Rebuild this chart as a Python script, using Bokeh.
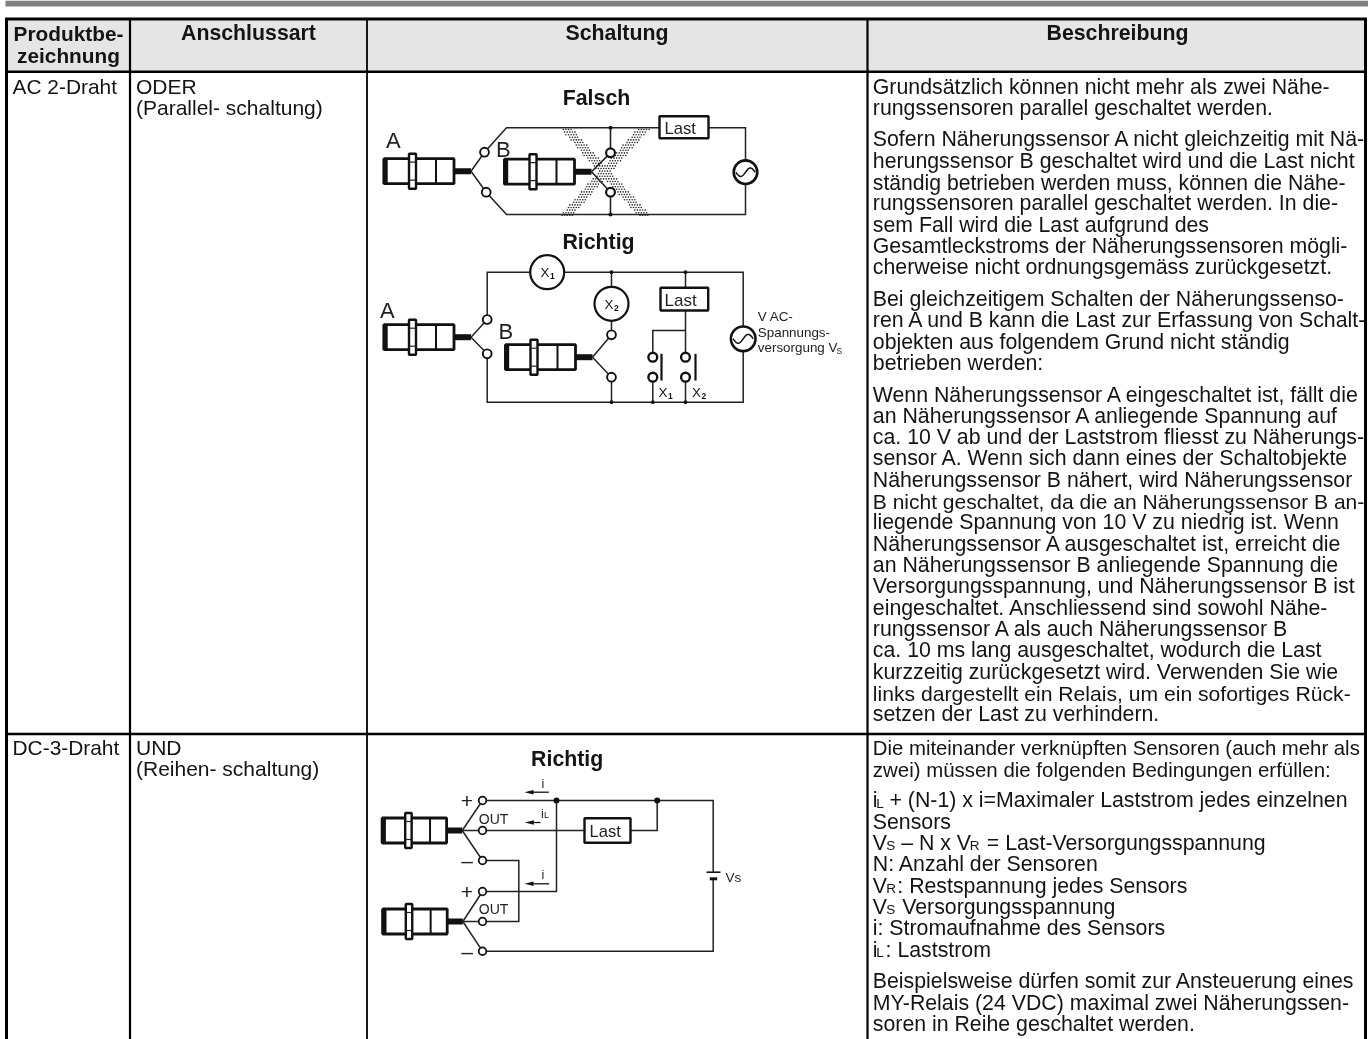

import numpy as np
from bokeh.plotting import figure
from bokeh.embed import file_html
from bokeh.resources import INLINE
from bokeh.core.properties import value

HEADER_COLS = ["Produktbe-|zeichnung", "Anschlussart", "Schaltung", "Beschreibung"]
ROW_PRODUCTS = ["AC 2-Draht", "DC-3-Draht"]
ROW_TYPES = [["ODER", "(Parallel- schaltung)"], ["UND", "(Reihen- schaltung)"]]
AC_PARAGRAPHS = [
    ["Grundsätzlich können nicht mehr als zwei Nähe-", "rungssensoren parallel geschaltet werden."],
    ["Sofern Näherungssensor A nicht gleichzeitig mit Nä-", "herungssensor B geschaltet wird und die Last nicht",
     "ständig betrieben werden muss, können die Nähe-", "rungssensoren parallel geschaltet werden. In die-",
     "sem Fall wird die Last aufgrund des", "Gesamtleckstroms der Näherungssensoren mögli-",
     "cherweise nicht ordnungsgemäss zurückgesetzt."],
    ["Bei gleichzeitigem Schalten der Näherungssenso-", "ren A und B kann die Last zur Erfassung von Schalt-",
     "objekten aus folgendem Grund nicht ständig", "betrieben werden:"],
    ["Wenn Näherungssensor A eingeschaltet ist, fällt die", "an Näherungssensor A anliegende Spannung auf",
     "ca. 10 V ab und der Laststrom fliesst zu Näherungs-", "sensor A. Wenn sich dann eines der Schaltobjekte",
     "Näherungssensor B nähert, wird Näherungssensor", "B nicht geschaltet, da die an Näherungssensor B an-",
     "liegende Spannung von 10 V zu niedrig ist. Wenn", "Näherungssensor A ausgeschaltet ist, erreicht die",
     "an Näherungssensor B anliegende Spannung die", "Versorgungsspannung, und Näherungssensor B ist",
     "eingeschaltet. Anschliessend sind sowohl Nähe-", "rungssensor A als auch Näherungssensor B",
     "ca. 10 ms lang ausgeschaltet, wodurch die Last", "kurzzeitig zurückgesetzt wird. Verwenden Sie wie",
     "links dargestellt ein Relais, um ein sofortiges Rück-", "setzen der Last zu verhindern."],
]
DC_PARAGRAPHS = [
    ["Die miteinander verknüpften Sensoren (auch mehr als", "zwei) müssen die folgenden Bedingungen erfüllen:"],
    [[("i", 0), ("{L", 3.4), ("+ (N-1) x i=Maximaler Laststrom jedes einzelnen", 16.7)], "Sensors",
     [("V", 0), ("{S", 13.5), ("– N x V", 28.4), ("{R", 97), ("= Last-Versorgungsspannung", 114)],
     "N: Anzahl der Sensoren",
     [("V", 0), ("{R", 13.5), (": Restspannung jedes Sensors", 24.5)],
     [("V", 0), ("{S", 13.5), ("Versorgungsspannung", 29.4)],
     "i: Stromaufnahme des Sensors",
     [("i", 0), ("{L", 3.4), (": Laststrom", 12.8)]],
    ["Beispielsweise dürfen somit zur Ansteuerung eines", "MY-Relais (24 VDC) maximal zwei Näherungssen-",
     "soren in Reihe geschaltet werden."],
]
DIAGRAM_TITLES = ["Falsch", "Richtig", "Richtig"]
LOAD_LABEL = "Last"
SUPPLY_LABEL = ["V AC-", "Spannungs-", "versorgung V"]
LINE_FIT = {"Die miteinander": 0.955, "zwei) müssen": 0.96, "B nicht geschaltet": 0.986,
            "links dargestellt": 0.992, "ständig betrieben": 0.994}

FONT = "Liberation Sans"
INK = "#141414"
WIDTH, HEIGHT = 1368, 1039
BASE_FIX = 0.37  # alphabetic text in the svg backend sits this many em low

p = figure(width=WIDTH, height=HEIGHT, x_range=(0, WIDTH), y_range=(HEIGHT, 0),
           x_axis_type=None, y_axis_type=None, toolbar_location=None,
           output_backend="svg", min_border=0, outline_line_color=None,
           background_fill_color="white", border_fill_color="white")
p.styles = {"position": "fixed", "left": "0px", "top": "0px"}


def box(x0, y0, x1, y1, fill, line=None, lw=0):
    p.quad(left=[x0], right=[x1], top=[y0], bottom=[y1], fill_color=fill,
           line_color=line, line_width=lw)


def label(x, y, t, size=21.3, bold=False, align="left", base="alphabetic", color=INK):
    if base == "alphabetic":
        y = y - BASE_FIX * size
    p.text(x=[x], y=[y], text=[t], text_font=value(FONT), text_font_size=f"{size:.2f}px",
           text_font_style="bold" if bold else "normal", text_align=align,
           text_baseline=base, text_color=color)


def wire(pts, lw=1.5, color="#222222"):
    p.line(x=[a for a, _ in pts], y=[b for _, b in pts], line_width=lw, line_color=color,
           line_join="miter")


def node(x, y, r=4.4, lw=1.9):
    p.circle(x=[x], y=[y], radius=r, fill_color="white", line_color="#111111", line_width=lw)


def dot(x, y, r=2.0):
    p.circle(x=[x], y=[y], radius=r, fill_color="#111111", line_color=None)


def sensor(x, y, k=1.0):
    """Proximity sensor body, flange and thick cable, scaled by k."""
    x_end = x + 87 * k
    wire([(x + 70 * k, y), (x_end, y)], lw=6, color="#111111")
    box(x, y - 12.5, x + 70 * k, y + 12.5, "white", "#111111", 2.8)
    wire([(x + 1.2, y - 12.5), (x + 1.2, y + 12.5)], lw=5, color="#111111")
    wire([(x + 52 * k, y - 12.5), (x + 52 * k, y + 12.5)], lw=2, color="#111111")
    box(x + 25 * k, y - 17.5, x + 32 * k, y + 17.5, "white", "#111111", 2.4)
    wire([(x + 25 * k, y - 9), (x + 32 * k, y - 9)], lw=1.2)
    wire([(x + 25 * k, y + 9), (x + 32 * k, y + 9)], lw=1.2)
    return x_end


def ac_source(x, y, r=11.8):
    p.circle(x=[x], y=[y], radius=r, fill_color="white", line_color="#111111", line_width=2.6)
    t = np.linspace(-1, 1, 40)
    p.line(x=x + t * r * 0.82, y=y - np.sin(t * np.pi) * r * 0.36, line_color="#111111", line_width=1.5)


def load_box(x0, y0, x1, y1, tx, ty, size=16.6):
    box(x0, y0, x1, y1, "white", "#111111", 2.4)
    label(tx, ty, LOAD_LABEL, size=size, color="#222222")


def arrow(x_from, x_to, y):
    p.line(x=[x_from, x_to + 6], y=[y, y], line_width=1.3, line_color="#111111")
    p.patch(x=[x_to, x_to + 9, x_to + 9], y=[y, y - 2.3, y + 2.3], fill_color="#111111", line_color=None)


# ---------- table frame ----------
box(5, 0, WIDTH, 6, "#808080")
box(5.5, 19, 1365, 71, "#e5e5e5")
TABLE_L, TABLE_R, TABLE_T, ROW_Y, HEAD_Y = 6, 1365, 18.5, 733.5, 71.3
for x_pos, lw in [(TABLE_L, 3), (129.5, 2.2), (366.5, 1.8), (867, 2.2), (TABLE_R, 3)]:
    wire([(x_pos, TABLE_T), (x_pos, HEIGHT)], lw=lw, color="#000000")
for y_pos, lw in [(TABLE_T, 3), (HEAD_Y, 2.6), (ROW_Y, 2.4)]:
    wire([(4.5, y_pos), (TABLE_R + 1.5, y_pos)], lw=lw, color="#000000")

# ---------- headers ----------
first, second = HEADER_COLS[0].split("|")
label(68, 40.7, first, bold=True, align="center", size=20.8)
label(68, 62.3, second, bold=True, align="center", size=20.8)
label(248, 40.7, HEADER_COLS[1], bold=True, align="center")
label(616.5, 40.7, HEADER_COLS[2], bold=True, align="center")
label(1117, 40.7, HEADER_COLS[3], bold=True, align="center")

# ---------- left columns ----------
for prod, lines, base in zip(ROW_PRODUCTS, ROW_TYPES, [93.6, 754.6]):
    label(12, base, prod, size=20.9)
    for j, line in enumerate(lines):
        label(135.5, base + j * 21.4, line, size=21)

# ---------- description ----------
LEAD, PARA = 21.33, 10.2
COL4_X = 872.3


def paragraphs(paras, y):
    for para in paras:
        for line in para:
            if isinstance(line, str):
                fit = next((v for k, v in LINE_FIT.items() if line.startswith(k)), 1.0)
                label(COL4_X, y, line, size=21.3 * fit)
            else:
                for t, dx in line:
                    if t.startswith("{"):
                        label(COL4_X + dx, y, t[1:], size=13.6)
                    else:
                        label(COL4_X + dx, y, t)
            y += LEAD
        y += PARA


paragraphs(AC_PARAGRAPHS, 94.0)
paragraphs(DC_PARAGRAPHS, 755.0)

# ---------- diagram 1: Falsch ----------
label(596, 105, DIAGRAM_TITLES[0], bold=True, align="center")
YT, YB = 127.3, 214.0
gx, gy = np.meshgrid(np.arange(555, 655, 2.6), np.arange(129, 215, 2.6))
gx[1::2] += 1.3
gx, gy = gx.ravel(), gy.ravel()
cx_top, cx_bot = 566.5, 642.5
slope = (cx_bot - cx_top) / (214 - 129)
c1 = cx_top + (gy - 129) * slope
c2 = cx_bot - (gy - 129) * slope
mask = (np.abs(gx - c1) < 6.2) | (np.abs(gx - c2) < 6.2)
p.scatter(x=gx[mask], y=gy[mask], size=1.6, marker="circle", fill_color="#222222", line_color=None)

sa = sensor(383.5, 170.7)
sb = sensor(504, 171.2)
wire([(sa, 170.7), (484, 151.7), (506, YT), (659, YT)])
wire([(sa, 170.7), (485.7, 191.7), (506, YB), (745, YB), (745, YT), (708, YT)])
wire([(sb, 171.2), (610, 152.3), (610, YT)], lw=1.6)
wire([(sb, 171.2), (610, 191.7), (610, YB)], lw=1.6)
for nx, ny in [(484, 151.7), (485.7, 191.7)]:
    node(nx, ny)
for nx, ny in [(610, 152.3), (610, 191.7)]:
    node(nx, ny, r=4.4, lw=2.2)
dot(610, YT), dot(610, YB)
load_box(659, 115.7, 708, 137.7, 664, 134)
ac_source(745, 171.7)
label(385.5, 148.3, "A", size=22, color="#222222")
label(495.5, 157.3, "B", size=22, color="#222222")

# ---------- diagram 2: Richtig ----------
label(598, 249, DIAGRAM_TITLES[1], bold=True, align="center")
YT2, YB2 = 271.7, 401.7
XL, XR = 486.7, 742.7
sa2 = sensor(383.5, 336.7)
sb2 = sensor(505, 356.7)
wire([(sa2, 336.7), (XL, 319), (XL, YT2), (XR, YT2), (XR, YB2), (XL, YB2), (XL, 353.3), (sa2, 336.7)])
wire([(sb2, 356.7), (611, 334.3), (611, YT2)])
wire([(sb2, 356.7), (611, 376.7), (611, YB2)])
wire([(685, YT2), (685, 356.7)])
wire([(685, 330), (652.3, 330), (652.3, 356.7)])
wire([(652.3, 376.7), (652.3, YB2)])
wire([(685, 376.7), (685, YB2)])
for nx, ny in [(XL, 319), (XL, 353.3), (611, 334.3), (611, 376.7)]:
    node(nx, ny)
for nx, ny in [(652.3, 356.7), (652.3, 376.7), (685, 356.7), (685, 376.7)]:
    node(nx, ny, r=4.4, lw=2.4)
for nx, ny in [(611, YT2), (685, YT2), (611, YB2), (652.3, YB2), (685, YB2)]:
    dot(nx, ny, r=1.9)
wire([(661, 353.3), (661, 380)], lw=2.2, color="#111111")
wire([(695, 353.3), (695, 380)], lw=2.2, color="#111111")
for cx, cy in [(546.7, YT2), (611, 303.3)]:
    p.circle(x=[cx], y=[cy], radius=17, fill_color="white", line_color="#111111", line_width=2.2)
label(540, 276.7, "X", size=13.4)
label(549.5, 279, "1", size=8.5, bold=True)
label(604, 308.5, "X", size=13.4)
label(613.5, 310.8, "2", size=8.5, bold=True)
load_box(660, 287.3, 707.7, 310, 664, 306.7, size=17)
label(658, 396.7, "X", size=13.4)
label(667.5, 399, "1", size=8.5, bold=True)
label(691.5, 396.7, "X", size=13.4)
label(701, 399, "2", size=8.5, bold=True)
ac_source(XR, 338.3, r=12.3)
label(379.5, 318, "A", size=22, color="#222222")
label(498, 339, "B", size=22, color="#222222")
label(757.3, 320.7, SUPPLY_LABEL[0], size=13.4, color="#222222")
label(757.3, 336.7, SUPPLY_LABEL[1], size=13.4, color="#222222")
label(757.3, 352.3, SUPPLY_LABEL[2], size=13.4, color="#222222")
label(836, 353.5, "S", size=8.5, color="#222222")

# ---------- diagram 3: DC ----------
label(566.7, 766.7, DIAGRAM_TITLES[2], bold=True, align="center")
K = 0.92
s1 = sensor(381.7, 830, K)
s2 = sensor(382.3, 921, K)
Y_PLUS, Y_OUT, Y_MIN = 800, 830, 860
Y_PLUS2, Y_OUT2, Y_MIN2 = 891, 921, 950.7
XN, XR3 = 482, 712.7
for yy in (Y_PLUS, Y_OUT, Y_MIN):
    wire([(s1, 830), (XN, yy)])
for yy in (Y_PLUS2, Y_OUT2, Y_MIN2):
    wire([(s2, 921), (XN, yy)])
wire([(XN, Y_PLUS), (XR3, Y_PLUS), (XR3, 871.7)])
wire([(XR3, 878.3), (XR3, Y_MIN2), (XN, Y_MIN2)])
wire([(556, Y_PLUS), (556, Y_PLUS2), (XN, Y_PLUS2)])
wire([(XN, Y_OUT), (584, Y_OUT)])
wire([(630, Y_OUT), (656.7, Y_OUT), (656.7, Y_PLUS)])
wire([(XN, Y_MIN), (518.3, Y_MIN), (518.3, Y_OUT2), (XN, Y_OUT2)])
for yy in (Y_PLUS, Y_OUT, Y_MIN, Y_PLUS2, Y_OUT2, Y_MIN2):
    node(XN, yy, r=3.8, lw=1.8)
dot(556, Y_PLUS, r=3), dot(656.7, Y_PLUS, r=3)
load_box(584, 817.7, 630, 842.3, 589, 837.3)
wire([(706, 871.7), (720, 871.7)], lw=1.6, color="#111111")
wire([(709.3, 878.3), (716.7, 878.3)], lw=3, color="#111111")
label(725, 882.3, "Vs", size=13.5, color="#222222")
for yy, sign in [(Y_PLUS, "+"), (Y_MIN, "–"), (Y_PLUS2, "+"), (Y_MIN2, "–")]:
    label(466.5, yy, sign, size=21, align="center", base="middle", color="#222222")
label(478.3, 823.3, "OUT", size=14, color="#222222")
label(478.3, 913.3, "OUT", size=14, color="#222222")
arrow(548.3, 524, 791.7)
label(541, 788.3, "i", size=12.5, color="#222222")
arrow(540, 524.3, 822)
label(540.5, 818.3, "i", size=12.5, color="#222222")
label(543.5, 818.3, "L", size=9, color="#222222")
arrow(548.7, 524, 883.3)
label(541, 879.3, "i", size=12.5, color="#222222")

open("out.html", "w").write(file_html(p, INLINE))
